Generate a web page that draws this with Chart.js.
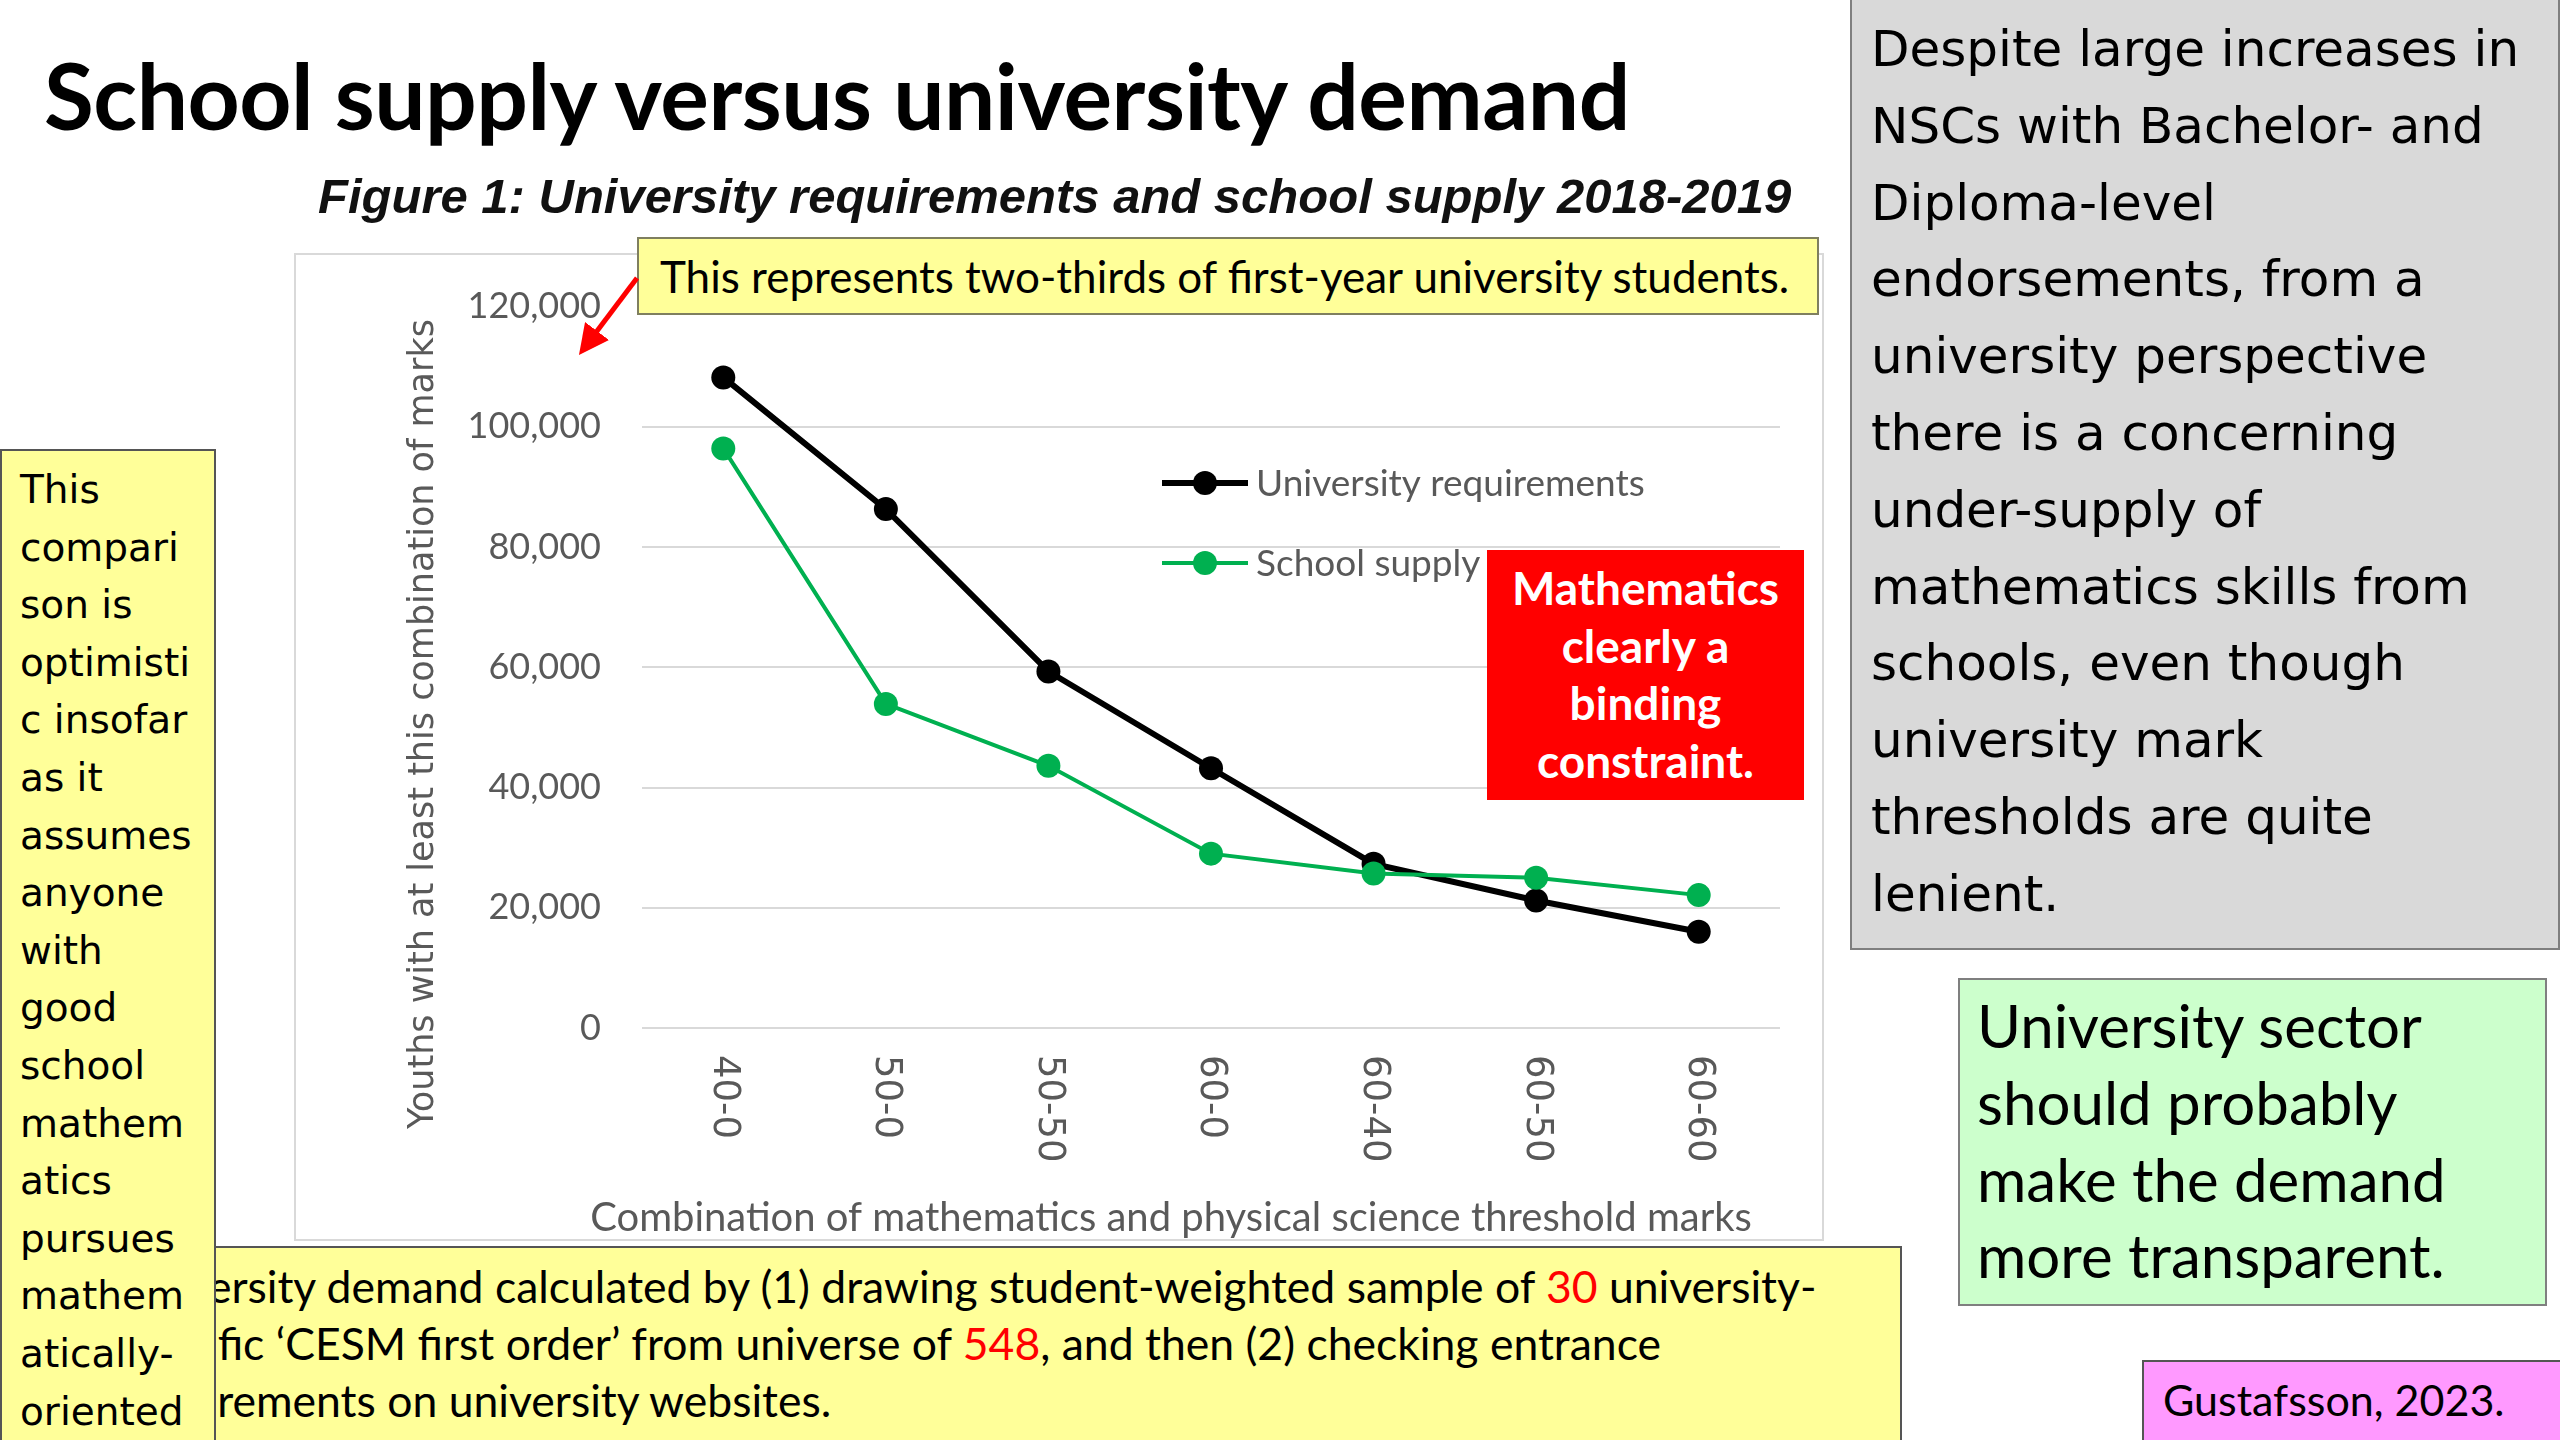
<!DOCTYPE html>
<html>
<head>
<meta charset="utf-8">
<title>School supply versus university demand</title>
<script src="https://cdn.jsdelivr.net/npm/chart.js@4.4.0/dist/chart.umd.min.js"></script>
<style>
  body { margin: 0; width: 2560px; height: 1440px; overflow: hidden; background: #fff; position: relative; font-family: Lato, sans-serif; color: #000; }
  .abs { position: absolute; box-sizing: border-box; white-space: pre; }
  #title { left: 44px; top: 40px; font-size: 91px; font-weight: 700; line-height: 110px; letter-spacing: -0.5px; }
  #subtitle { left: 318px; top: 166px; font-family: "Liberation Sans", Arial, sans-serif; font-style: italic; font-weight: 700; font-size: 49px; line-height: 60px; color: #111; }
  #chartBox { left: 294px; top: 253px; width: 1530px; height: 988px; border: 2px solid #d9d9d9; background: #fff; }
  #chartBox canvas { position: absolute; left: -2px; top: -2px; }
  #topNote { left: 637px; top: 237px; width: 1182px; height: 78px; background: #ffff99; border: 2px solid #7f7f5f; font-size: 44px; line-height: 74px; padding-left: 21px; }
  #redNote { left: 1487px; top: 550px; width: 317px; height: 250px; background: #ff0000; color: #fff; font-weight: 700; font-size: 46px; line-height: 57.7px; text-align: center; padding-top: 9px; }
  #bottomNote { left: 212px; top: 1246px; width: 1690px; height: 220px; background: #ffff99; border: 2px solid #555; overflow: hidden; }
  #bottomNote div { position: absolute; left: -96px; top: 9px; font-size: 44.5px; line-height: 57px; white-space: pre; }
  .hi { color: #ff0000; }
  #leftNote { left: 0; top: 449px; width: 216px; height: 1020px; background: #ffff99; border: 2px solid #555; font-family: "DejaVu Sans", sans-serif; font-size: 39px; line-height: 57.6px; padding: 10px 0 0 18px; }
  #grayNote { left: 1850px; top: 0; width: 710px; height: 950px; background: #d9d9d9; border: 2px solid #7f7f7f; border-top: none; font-family: "DejaVu Sans", sans-serif; font-size: 50px; line-height: 76.8px; padding: 11px 0 0 19px; }
  #greenNote { left: 1958px; top: 978px; width: 589px; height: 328px; background: #ccffcc; border: 2px solid #7f7f7f; font-size: 60px; line-height: 76.8px; padding: 7px 0 0 17px; }
  #pinkNote { left: 2142px; top: 1360px; width: 430px; height: 100px; background: #ff99ff; border: 2px solid #555; font-size: 43px; line-height: 76px; padding-left: 19px; }
  #arrow { position: absolute; left: 0; top: 0; }
</style>
</head>
<body>
<div id="title" class="abs">School supply versus university demand</div>
<div id="subtitle" class="abs">Figure 1: University requirements and school supply 2018-2019</div>
<div id="chartBox" class="abs"><canvas id="chart" width="1530" height="988"></canvas></div>
<div id="topNote" class="abs">This represents two-thirds of first-year university students.</div>
<svg id="arrow" width="2560" height="1440">
  <defs>
    <marker id="head" markerWidth="6" markerHeight="6" refX="3" refY="3" orient="auto" markerUnits="strokeWidth">
      <path d="M0,0 L6,3 L0,6 z" fill="#ff0000"></path>
    </marker>
  </defs>
  <line x1="637" y1="278" x2="588" y2="343" stroke="#ff0000" stroke-width="5" marker-end="url(#head)"></line>
</svg>
<div id="redNote" class="abs">Mathematics
clearly a
binding
constraint.</div>
<div id="bottomNote" class="abs"><div>University demand calculated by (1) drawing student-weighted sample of <span class="hi">30</span> university-
specific ‘CESM first order’ from universe of <span class="hi">548</span>, and then (2) checking entrance
requirements on university websites.</div></div>
<div id="leftNote" class="abs">This
compari
son is
optimisti
c insofar
as it
assumes
anyone
with
good
school
mathem
atics
pursues
mathem
atically-
oriented</div>
<div id="grayNote" class="abs">Despite large increases in
NSCs with Bachelor- and
Diploma-level
endorsements, from a
university perspective
there is a concerning
under-supply of
mathematics skills from
schools, even though
university mark
thresholds are quite
lenient.</div>
<div id="greenNote" class="abs">University sector
should probably
make the demand
more transparent.</div>
<div id="pinkNote" class="abs">Gustafsson, 2023.</div>

<script>
// Threshold mark combinations (maths-physical science)
const categories = ['40-0', '50-0', '50-50', '60-0', '60-40', '60-50', '60-60'];
const universityRequirements = [108200, 86300, 59300, 43200, 27300, 21200, 16000];
const schoolSupply = [96400, 53900, 43600, 29000, 25700, 25000, 22100];
const yTicks = [0, 20000, 40000, 60000, 80000, 100000, 120000];

const seriesNames = ['University requirements', 'School supply'];
const blackColor = '#000000';
const greenColor = '#00b050';
const axisTextColor = '#595959';

// Excel-style bits Chart.js can't do out of the box: clockwise x labels,
// offset axis titles, and the legend sitting inside the plot
const excelBits = {
  id: 'excelBits',
  afterDraw(chart) {
    const { ctx, chartArea, scales } = chart;
    ctx.save();
    ctx.fillStyle = axisTextColor;

    // x tick labels, reading top to bottom
    ctx.font = '37px "DejaVu Sans"';
    ctx.textAlign = 'left';
    ctx.textBaseline = 'middle';
    categories.forEach((label, i) => {
      const px = scales.x.getPixelForTick(i);
      ctx.save();
      ctx.translate(px, chartArea.bottom + 27);
      ctx.rotate(Math.PI / 2);
      ctx.fillText(label, 0, 0);
      ctx.restore();
    });

    // y axis title
    ctx.font = '35px "DejaVu Sans"';
    ctx.textAlign = 'center';
    ctx.save();
    ctx.translate(130, 471);
    ctx.rotate(-Math.PI / 2);
    ctx.fillText('Youths with at least this combination of marks', 0, 0);
    ctx.restore();

    // x axis title
    ctx.font = '40px Lato';
    ctx.fillText('Combination of mathematics and physical science threshold marks', 877, 965);

    // legend
    ctx.font = '37px Lato';
    ctx.textAlign = 'left';
    chart.data.datasets.forEach((ds, i) => {
      const ly = 230 + i * 80;
      ctx.strokeStyle = ds.borderColor;
      ctx.lineWidth = ds.borderWidth;
      ctx.beginPath();
      ctx.moveTo(868, ly);
      ctx.lineTo(954, ly);
      ctx.stroke();
      ctx.fillStyle = ds.pointBackgroundColor;
      ctx.beginPath();
      ctx.arc(911, ly, ds.pointRadius, 0, Math.PI * 2);
      ctx.fill();
      ctx.fillStyle = axisTextColor;
      ctx.fillText(ds.label, 962, ly + 1);
    });
    ctx.restore();
  }
};

new Chart(document.getElementById('chart'), {
  type: 'line',
  data: {
    labels: categories,
    datasets: [{
      label: seriesNames[0],
      data: universityRequirements,
      borderColor: blackColor,
      backgroundColor: blackColor,
      pointBackgroundColor: blackColor,
      pointBorderColor: blackColor,
      borderWidth: 6,
      pointRadius: 12,
      pointBorderWidth: 0,
      tension: 0,
      order: 1
    }, {
      label: seriesNames[1],
      data: schoolSupply,
      borderColor: greenColor,
      backgroundColor: greenColor,
      pointBackgroundColor: greenColor,
      pointBorderColor: greenColor,
      borderWidth: 4,
      pointRadius: 12,
      pointBorderWidth: 0,
      tension: 0,
      order: 0
    }]
  },
  options: {
    responsive: false,
    animation: false,
    devicePixelRatio: 1,
    layout: { padding: { top: 53.5, right: 44, left: 0, bottom: 0 } },
    plugins: {
      legend: { display: false },
      tooltip: { enabled: false }
    },
    scales: {
      x: {
        offset: true,
        grid: { display: false },
        border: { display: false },
        ticks: { display: false },
        afterFit: scale => { scale.height = 213; }
      },
      y: {
        min: 0,
        max: 120000,
        afterBuildTicks: scale => { scale.ticks = yTicks.map(v => ({ value: v })); },
        afterFit: scale => {
          // fixed width, and don't let the tick padding push the plot down
          scale.width = 348;
          scale.paddingTop = 0;
          scale.paddingBottom = 0;
        },
        grid: { color: '#d9d9d9', lineWidth: 2, drawTicks: false },
        border: { display: false },
        ticks: {
          padding: 41,
          color: axisTextColor,
          font: { family: 'Lato', size: 36 },
          callback: value => value.toLocaleString('en-US')
        }
      }
    }
  },
  plugins: [excelBits]
});
</script>
</body>
</html>
